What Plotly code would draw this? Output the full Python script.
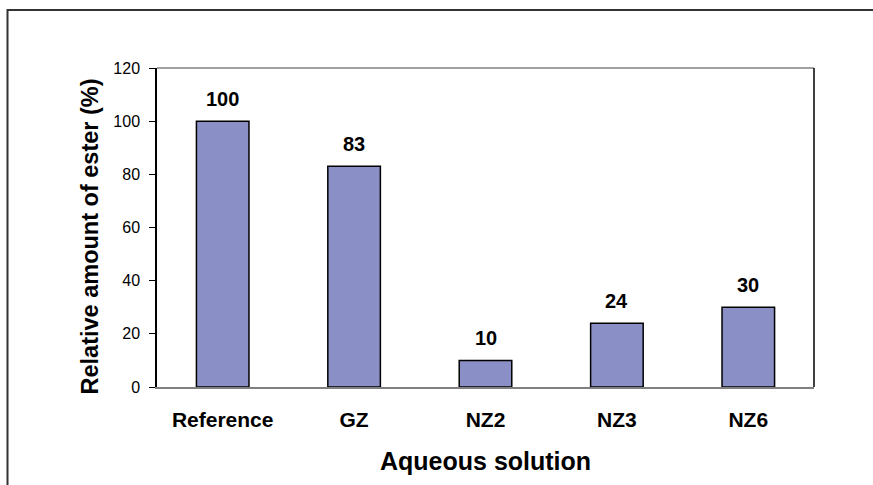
import plotly.graph_objects as go

categories = ["Reference", "GZ", "NZ2", "NZ3", "NZ6"]
ester_pct = [100, 83, 10, 24, 30]
y_ticks = [0, 20, 40, 60, 80, 100, 120]
x_title = "Aqueous solution"
y_title = "Relative amount of ester (%)"

FONT = "Arial, 'Liberation Sans', sans-serif"
W, H = 873, 485
L, R, T, B = 157, 59, 68, 98
pw, ph = W - L - R, H - T - B


def px_x(p):
    return (p - L) / pw


def px_y(p):
    return (H - B - p) / ph


fig = go.Figure(
    go.Bar(
        x=categories,
        y=ester_pct,
        width=0.4,
        marker=dict(color="#8A8FC6", line=dict(color="#000000", width=1.5)),
        hoverinfo="x+y",
    )
)

annotations = []
for c, v in zip(categories, ester_pct):
    annotations.append(dict(
        x=c, y=v, xref="x", yref="y", text=f"<b>{v}</b>", showarrow=False,
        yanchor="bottom", yshift=9,
        font=dict(family=FONT, size=20, color="#000000"),
    ))

annotations.append(dict(
    x=px_x(485.5), y=px_y(461), xref="paper", yref="paper", text=f"<b>{x_title}</b>",
    showarrow=False, xanchor="center", yanchor="middle",
    font=dict(family=FONT, size=25, color="#000000"),
))
annotations.append(dict(
    x=px_x(89), y=px_y(236.5), xref="paper", yref="paper", text=f"<b>{y_title}</b>",
    showarrow=False, xanchor="center", yanchor="middle", textangle=-90,
    font=dict(family=FONT, size=23.5, color="#000000"),
))

shapes = [
    # outer chart frame
    dict(type="rect", xref="paper", yref="paper",
         x0=px_x(7.5), x1=px_x(900), y0=px_y(10), y1=px_y(520),
         line=dict(color="#333333", width=2), fillcolor="rgba(0,0,0,0)", layer="below"),
    # plot area top border
    dict(type="line", xref="paper", yref="paper", x0=0, x1=1, y0=1, y1=1,
         line=dict(color="#808080", width=1.5)),
    # plot area right border
    dict(type="line", xref="paper", yref="paper", x0=1, x1=1, y0=0, y1=1,
         line=dict(color="#000000", width=1.5)),
]

fig.update_layout(
    width=W, height=H,
    margin=dict(l=L, r=R, t=T, b=B, pad=0),
    paper_bgcolor="#FFFFFF",
    plot_bgcolor="#FFFFFF",
    showlegend=False,
    bargap=0.6,
    font=dict(family=FONT, color="#000000"),
    annotations=annotations,
    shapes=shapes,
    xaxis=dict(
        showline=True, linecolor="#808080", linewidth=1.5,
        ticks="", showgrid=False, zeroline=False,
        tickfont=dict(family=FONT, size=21, color="#000000", weight="bold"),
        ticklabelstandoff=13,
    ),
    yaxis=dict(
        range=[0, 120], tickvals=y_ticks, ticktext=[str(t) for t in y_ticks],
        showline=True, linecolor="#000000", linewidth=1.5,
        ticks="outside", ticklen=6, tickcolor="#000000", tickwidth=1,
        showgrid=False, zeroline=False,
        tickfont=dict(family=FONT, size=16, color="#000000"),
        ticklabelstandoff=6,
    ),
)

fig.write_html(
    "out.html",
    config={"displayModeBar": False},
    post_script="document.body.style.margin='0px';document.body.style.overflow='hidden';",
)
